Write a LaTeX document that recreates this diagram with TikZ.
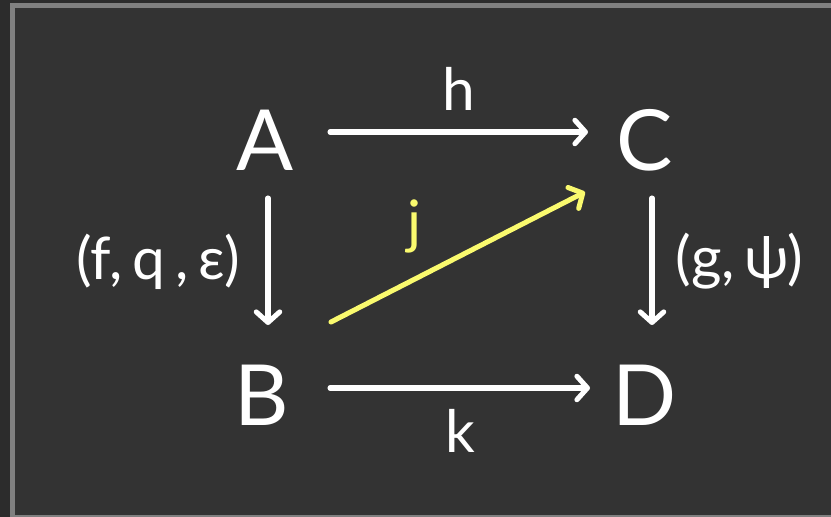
\documentclass[tikz,border=0pt]{standalone}
\usepackage{fontspec}
\setmainfont{Lato}
\usetikzlibrary{arrows.meta}
\definecolor{bgdark}{HTML}{2C2C2C}
\definecolor{framegrey}{HTML}{808080}
\definecolor{boardgrey}{HTML}{333333}
\definecolor{chalkyellow}{HTML}{FAFA6E}
\tikzset{
  obj/.style={text=white, font=\fontsize{72}{72}\selectfont, inner sep=0pt},
  lbl/.style={text=white, font=\fontsize{50}{50}\selectfont, inner sep=0pt},
  mapto/.style={draw=white, line width=4.3pt, line cap=round,
    -{Straight Barb[length=9pt, width=20pt, line cap=round, line join=round]}},
}
\begin{document}
\begin{tikzpicture}[x=0.03cm, y=-0.03cm]
			% Board and frame
			\fill[bgdark] (0,0) rectangle (831,517);
			\fill[framegrey] (10,3) rectangle (831,517);
			\fill[boardgrey] (15,8) rectangle (831,515);
			\useasboundingbox (0,0) rectangle (831,517);

			% Define objects with their coordinates
			\node[obj] (A) at (265,140) {A};
			\node[obj] (C) at (645,140) {C};
			\node[obj] (B) at (262,395) {B};
			\node[obj] (D) at (645,395) {D};

			% Ends of the arrows
			\coordinate (ha) at (330,132);
			\coordinate (hb) at (588,132);
			\coordinate (ka) at (330,388);
			\coordinate (kb) at (590,388);
			\coordinate (fa) at (268,198);
			\coordinate (fb) at (268,325);
			\coordinate (ga) at (652,198);
			\coordinate (gb) at (652,325);
			\coordinate (ja) at (331,322);
			\coordinate (jb) at (585,192);

			% Draw arrows with labels
			\draw[mapto] (ha) -- (hb) node[lbl, midway, above=16pt] {h};
			\draw[mapto] (ka) -- (kb) node[lbl, midway, below=16pt] {k};
			\draw[mapto] (fa) -- (fb) node[lbl, midway, left=22pt] {(f,\,q\,,\,ε)};
			\draw[mapto] (ga) -- (gb) node[lbl, midway, right=18pt] {(g,\,ψ)};
			\draw[mapto, draw=chalkyellow] (ja) -- (jb) node[lbl, pos=0.33, above=20pt, text=chalkyellow] {j};

		\end{tikzpicture}
\end{document}
